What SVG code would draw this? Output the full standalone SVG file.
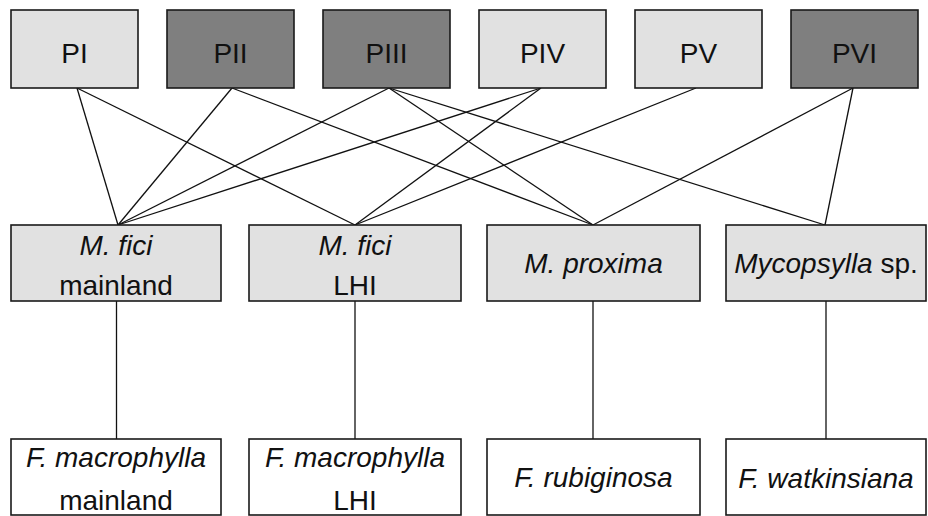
<svg xmlns="http://www.w3.org/2000/svg" width="928" height="516" viewBox="0 0 928 516">
<style>
.box{stroke:#1a1a1a;stroke-width:1.6}
.light{fill:#e1e1e1}
.dark{fill:#7f7f7f}
.white{fill:#ffffff}
text{font-family:"Liberation Sans",Arial,sans-serif;font-size:28px;fill:#111;text-anchor:middle}
.it{font-style:italic}
.conn line{stroke:#111;stroke-width:1.3}
</style>
<rect width="928" height="516" fill="#ffffff"/>
<g class="conn" id="connectors">
<line x1="77" y1="88" x2="118" y2="225"/>
<line x1="77" y1="88" x2="355" y2="225"/>
<line x1="232" y1="88" x2="118" y2="225"/>
<line x1="232" y1="88" x2="593" y2="225"/>
<line x1="389" y1="88" x2="118" y2="225"/>
<line x1="389" y1="88" x2="593" y2="225"/>
<line x1="389" y1="88" x2="825" y2="225"/>
<line x1="541" y1="88" x2="118" y2="225"/>
<line x1="541" y1="88" x2="355" y2="225"/>
<line x1="696" y1="88" x2="355" y2="225"/>
<line x1="853" y1="88" x2="593" y2="225"/>
<line x1="853" y1="88" x2="825" y2="225"/>
<line x1="116.5" y1="301" x2="116.5" y2="439"/>
<line x1="355" y1="301" x2="355" y2="439"/>
<line x1="593" y1="301" x2="593" y2="439"/>
<line x1="826" y1="301" x2="826" y2="439"/>
</g>
<g id="PI"><rect class="box light" x="11" y="10" width="127" height="78"/><text x="74.5" y="63">PI</text></g>
<g id="PII"><rect class="box dark" x="167" y="10" width="127" height="78"/><text x="230.5" y="63">PII</text></g>
<g id="PIII"><rect class="box dark" x="323" y="10" width="127" height="78"/><text x="386.5" y="63">PIII</text></g>
<g id="PIV"><rect class="box light" x="479" y="10" width="127" height="78"/><text x="542.5" y="63">PIV</text></g>
<g id="PV"><rect class="box light" x="635" y="10" width="127" height="78"/><text x="698.5" y="63">PV</text></g>
<g id="PVI"><rect class="box dark" x="791" y="10" width="127" height="78"/><text x="854.5" y="63">PVI</text></g>
<g id="mfici-mainland"><rect class="box light" x="11" y="225" width="210" height="76"/><text class="it" x="116" y="255">M. fici</text><text x="116" y="295">mainland</text></g>
<g id="mfici-lhi"><rect class="box light" x="249" y="225" width="212" height="76"/><text class="it" x="355" y="255">M. fici</text><text x="355" y="295">LHI</text></g>
<g id="mproxima"><rect class="box light" x="487" y="225" width="213" height="76"/><text class="it" x="593.5" y="273">M. proxima</text></g>
<g id="mycopsylla"><rect class="box light" x="726" y="225" width="200" height="76"/><text x="826" y="273"><tspan class="it">Mycopsylla</tspan> sp.</text></g>
<g id="fmac-mainland"><rect class="box white" x="11" y="439" width="210" height="76"/><text class="it" x="116" y="467">F. macrophylla</text><text x="116" y="510">mainland</text></g>
<g id="fmac-lhi"><rect class="box white" x="249" y="439" width="212" height="76"/><text class="it" x="355" y="467">F. macrophylla</text><text x="355" y="510">LHI</text></g>
<g id="frubiginosa"><rect class="box white" x="487" y="439" width="213" height="76"/><text class="it" x="593.5" y="487">F. rubiginosa</text></g>
<g id="fwatkinsiana"><rect class="box white" x="726" y="439" width="200" height="76"/><text class="it" x="826" y="488">F. watkinsiana</text></g>
</svg>
